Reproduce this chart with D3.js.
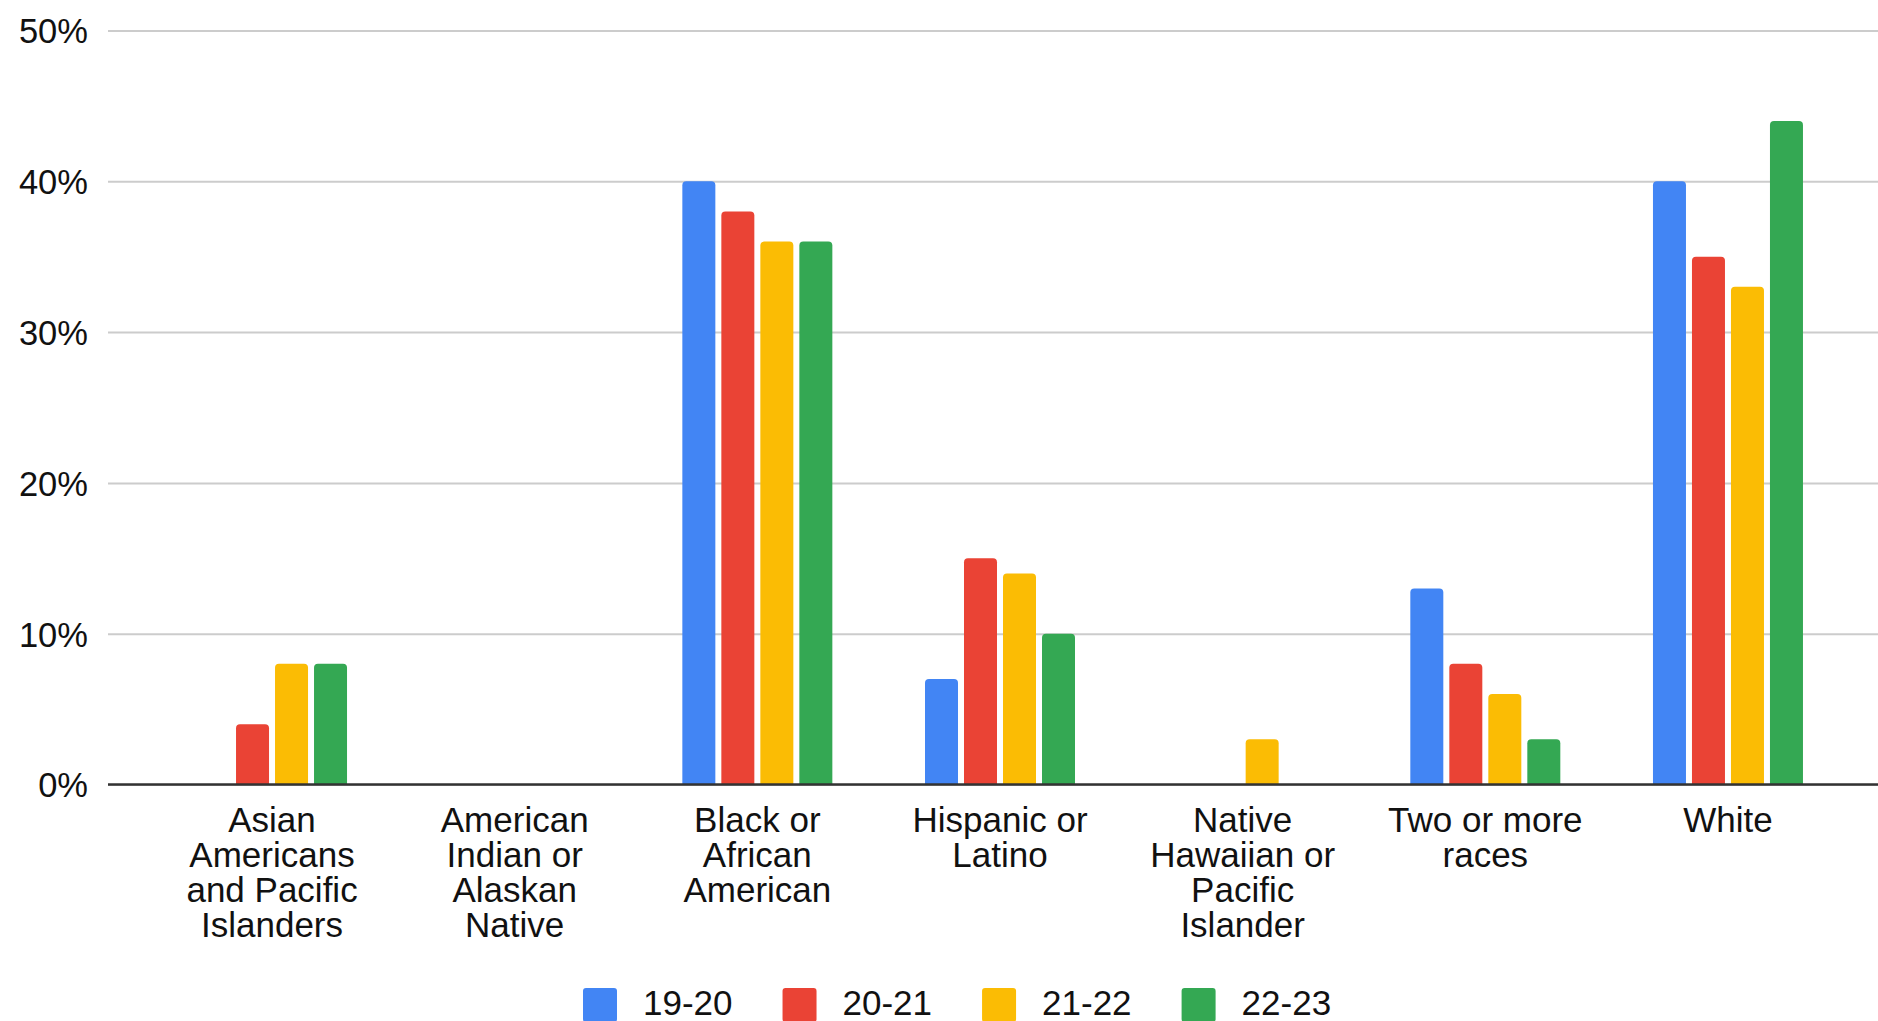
<!DOCTYPE html>
<html>
<head>
<meta charset="utf-8">
<script src="https://cdn.jsdelivr.net/npm/d3@7"></script>
<style>
  html, body { margin: 0; padding: 0; background: #fff; }
  svg { display: block; font-family: "Liberation Sans", Arial, Helvetica, sans-serif; }
</style>
</head>
<body>
<svg id="chart" width="1878" height="1021"></svg>
<script>
// Share of students by race/ethnicity, per school year
const categories = [
  "Asian Americans and Pacific Islanders",
  "American Indian or Alaskan Native",
  "Black or African American",
  "Hispanic or Latino",
  "Native Hawaiian or Pacific Islander",
  "Two or more races",
  "White"
];
const seriesNames = ["19-20", "20-21", "21-22", "22-23"];
const values1920 = [0, 0, 0.40, 0.07, 0, 0.13, 0.40];
const values2021 = [0.04, 0, 0.38, 0.15, 0, 0.08, 0.35];
const values2122 = [0.08, 0, 0.36, 0.14, 0.03, 0.06, 0.33];
const values2223 = [0.08, 0, 0.36, 0.10, 0, 0.03, 0.44];
const yTicks = [0, 0.1, 0.2, 0.3, 0.4, 0.5];
const seriesColors = ["#4285F4", "#EA4335", "#FBBC04", "#34A853"];

const seriesValues = [values1920, values2021, values2122, values2223];
const rows = categories.map((c, i) => ({
  category: c,
  values: seriesNames.map((s, j) => ({ series: s, value: seriesValues[j][i] }))
}));

const svg = d3.select("#chart");
const W = 1878, H = 1021;
const plotLeft = 108, baseY = 784.5, topY = 30.5;

const y = d3.scaleLinear().domain([0, 0.5]).range([baseY, topY]);
const x0 = d3.scaleBand().domain(categories).range([150.7, 1849.3]).padding(0);
const x1 = d3.scaleBand().domain(seriesNames).range([-75, 75]).paddingInner(6 / 39).paddingOuter(0);
const color = d3.scaleOrdinal().domain(seriesNames).range(seriesColors);

// gridlines and y tick labels
const yAxis = d3.axisLeft(y)
  .tickValues(yTicks)
  .tickFormat(d3.format(".0%"))
  .tickSize(-(W - plotLeft))
  .tickPadding(20);

const gy = svg.append("g")
  .attr("transform", `translate(${plotLeft},0)`)
  .call(yAxis);
gy.select(".domain").remove();
gy.selectAll(".tick line")
  .attr("stroke", "#cccccc")
  .attr("stroke-width", 2);
gy.selectAll(".tick text")
  .attr("fill", "#111")
  .attr("font-size", 34.5)
  .attr("dy", "0.36em");

// bars with rounded top corners
const r = 4;
function barPath(x, yTop, w, yBottom) {
  const h = yBottom - yTop;
  const rr = Math.min(r, h, w / 2);
  return `M${x},${yBottom}V${yTop + rr}Q${x},${yTop} ${x + rr},${yTop}` +
         `H${x + w - rr}Q${x + w},${yTop} ${x + w},${yTop + rr}V${yBottom}Z`;
}

const groups = svg.append("g").selectAll("g")
  .data(rows)
  .join("g")
  .attr("transform", d => `translate(${x0(d.category) + x0.bandwidth() / 2},0)`);

groups.selectAll("path")
  .data(d => d.values.filter(v => v.value > 0))
  .join("path")
  .attr("fill", d => color(d.series))
  .attr("d", d => barPath(x1(d.series), y(d.value), x1.bandwidth(), y(0)));

// baseline
svg.append("line")
  .attr("x1", plotLeft).attr("x2", W)
  .attr("y1", y(0)).attr("y2", y(0))
  .attr("stroke", "#333")
  .attr("stroke-width", 2.5);

// category labels, wrapped
const xAxis = d3.axisBottom(x0).tickSize(0).tickPadding(0);
const gx = svg.append("g").attr("transform", `translate(0,${y(0)})`).call(xAxis);
gx.select(".domain").remove();
gx.selectAll(".tick text")
  .attr("fill", "#111")
  .attr("font-size", 35)
  .attr("y", 0)
  .attr("dy", null)
  .each(function (d) {
    const t = d3.select(this);
    const words = d.split(" ");
    t.text(null);
    const lines = [];
    let line = [];
    const probe = t.append("tspan");
    for (const w of words) {
      line.push(w);
      probe.text(line.join(" "));
      if (probe.node().getComputedTextLength() > 210 && line.length > 1) {
        line.pop();
        lines.push(line.join(" "));
        line = [w];
      }
    }
    lines.push(line.join(" "));
    probe.remove();
    lines.forEach((l, i) => {
      t.append("tspan")
        .attr("x", 0)
        .attr("y", 47 + i * 35)
        .text(l);
    });
  });

// legend
const legend = svg.append("g").attr("transform", "translate(583,988)");
let lx = 0;
seriesNames.forEach(s => {
  const item = legend.append("g").attr("transform", `translate(${lx},0)`);
  item.append("rect")
    .attr("width", 34).attr("height", 34)
    .attr("rx", 3)
    .attr("fill", color(s));
  const txt = item.append("text")
    .attr("x", 60).attr("y", 27)
    .attr("font-size", 35)
    .attr("fill", "#111")
    .text(s);
  lx += 60 + txt.node().getComputedTextLength() + 50;
});
</script>
</body>
</html>
